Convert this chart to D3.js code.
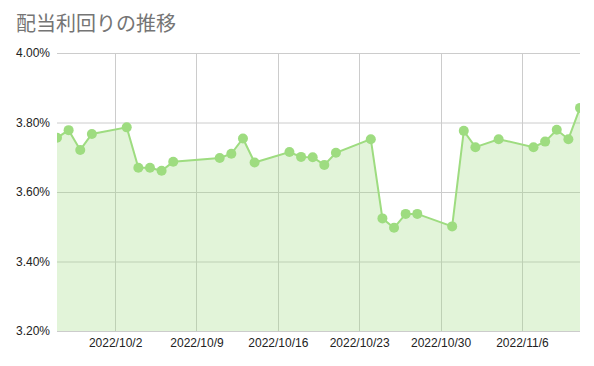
<!DOCTYPE html>
<html>
<head>
<meta charset="utf-8">
<script src="https://cdn.jsdelivr.net/npm/d3@7"></script>
<style>
  body { margin: 0; background: #fff; }
  svg { display: block; font-family: "Liberation Sans", Arial, sans-serif; }
</style>
</head>
<body>
<svg id="chart" width="594" height="366"></svg>
<script>
// data
const dates = [
  '2022-09-27', '2022-09-28', '2022-09-29', '2022-09-30', '2022-10-03',
  '2022-10-04', '2022-10-05', '2022-10-06', '2022-10-07', '2022-10-11',
  '2022-10-12', '2022-10-13', '2022-10-14', '2022-10-17', '2022-10-18',
  '2022-10-19', '2022-10-20', '2022-10-21', '2022-10-24', '2022-10-25',
  '2022-10-26', '2022-10-27', '2022-10-28', '2022-10-31', '2022-11-01',
  '2022-11-02', '2022-11-04', '2022-11-07', '2022-11-08', '2022-11-09',
  '2022-11-10', '2022-11-11'
];
const yields = [
  3.756, 3.778, 3.721, 3.767, 3.786,
  3.670, 3.670, 3.661, 3.687, 3.698,
  3.710, 3.754, 3.685, 3.715, 3.701,
  3.700, 3.678, 3.713, 3.752, 3.524,
  3.497, 3.537, 3.537, 3.501, 3.776,
  3.729, 3.752, 3.729, 3.745, 3.779,
  3.752, 3.842
];
const xTicks = ['2022-10-02', '2022-10-09', '2022-10-16', '2022-10-23', '2022-10-30', '2022-11-06'];
const yTicks = [3.2, 3.4, 3.6, 3.8, 4.0];
const title = '配当利回りの推移';

const LINE = '#9edc80';
const GRID = '#cccccc';

const parse = d3.timeParse('%Y-%m-%d');
const data = dates.map((d, i) => ({ date: parse(d), value: yields[i] }));

const margin = { top: 53, right: 14, bottom: 35, left: 57 };
const width = 594;
const height = 366;
const innerW = width - margin.left - margin.right;
const innerH = height - margin.top - margin.bottom;

const $svg = d3.select('#chart');

$svg.append('text')
  .attr('x', 16)
  .attr('y', 31)
  .attr('fill', '#757575')
  .style('font-family', '"Noto Sans CJK JP", sans-serif')
  .style('font-size', '20px')
  .text(title);

const x = d3.scaleTime()
  .domain([parse('2022-09-27'), parse('2022-11-11')])
  .range([0, innerW]);
const y = d3.scaleLinear()
  .domain([3.2, 4.0])
  .range([innerH, 0]);

const $g = $svg.append('g')
  .attr('transform', `translate(${margin.left},${margin.top})`);

$g.append('clipPath').attr('id', 'plot-clip')
  .append('rect').attr('width', innerW).attr('height', innerH);

// grid
$g.append('g')
  .selectAll('line.h')
  .data(yTicks)
  .join('line')
  .attr('x1', 0).attr('x2', innerW)
  .attr('y1', d => y(d) + 0.5).attr('y2', d => y(d) + 0.5)
  .attr('stroke', GRID);

$g.append('g')
  .selectAll('line.v')
  .data(xTicks.map(parse))
  .join('line')
  .attr('x1', d => Math.round(x(d)) + 0.5).attr('x2', d => Math.round(x(d)) + 0.5)
  .attr('y1', 0).attr('y2', innerH)
  .attr('stroke', GRID);

// axes labels
const yAxis = d3.axisLeft(y)
  .tickValues(yTicks)
  .tickSize(0)
  .tickPadding(7)
  .tickFormat(d => d.toFixed(2) + '%');
$g.append('g').call(yAxis)
  .call(s => s.select('.domain').remove())
  .selectAll('text')
  .attr('fill', '#222')
  .style('font-size', '12px');

const xAxis = d3.axisBottom(x)
  .tickValues(xTicks.map(parse))
  .tickSize(0)
  .tickPadding(7)
  .tickFormat(d3.timeFormat('%Y/%-m/%-d'));
$g.append('g')
  .attr('transform', `translate(0,${innerH})`)
  .call(xAxis)
  .call(s => s.select('.domain').remove())
  .selectAll('text')
  .attr('fill', '#222')
  .style('font-size', '12px');

// series
const $plot = $g.append('g').attr('clip-path', 'url(#plot-clip)');

const area = d3.area()
  .x(d => x(d.date))
  .y0(innerH)
  .y1(d => y(d.value));
const line = d3.line()
  .x(d => x(d.date))
  .y(d => y(d.value));

$plot.append('path')
  .datum(data)
  .attr('d', area)
  .attr('fill', LINE)
  .attr('fill-opacity', 0.3);

$plot.append('path')
  .datum(data)
  .attr('d', line)
  .attr('fill', 'none')
  .attr('stroke', LINE)
  .attr('stroke-width', 2);

$plot.selectAll('circle')
  .data(data)
  .join('circle')
  .attr('cx', d => x(d.date))
  .attr('cy', d => y(d.value))
  .attr('r', 5)
  .attr('fill', LINE);
</script>
</body>
</html>
